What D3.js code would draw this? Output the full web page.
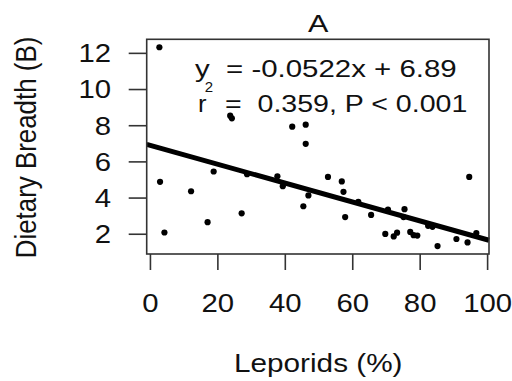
<!DOCTYPE html>
<html><head><meta charset="utf-8">
<script src="https://cdn.jsdelivr.net/npm/d3@7"></script>
<style>
html,body{margin:0;padding:0;background:#fff;}
svg{display:block;}
text{font-family:"Liberation Sans",Arial,sans-serif;fill:#111;}
</style></head>
<body>
<svg id="c" width="512" height="381"></svg>
<script>
// ---- data ----
const leporids = [2.8,3.0,4.3,12.2,17.1,18.9,23.8,24.3,27.2,28.8,37.8,39.4,42.2,46.2,46.2,45.5,47.0,52.8,56.9,57.4,57.9,61.8,65.6,70.6,75.5,75.2,69.8,72.3,73.3,77.2,78.2,79.3,82.5,83.8,85.3,90.9,94.2,94.7,96.8];
const breadth  = [12.31,4.87,2.07,4.35,2.64,5.44,8.53,8.38,3.13,5.29,5.18,4.63,7.92,8.03,6.97,3.52,4.12,5.14,4.89,4.32,2.92,3.77,3.04,3.34,3.36,2.92,1.99,1.85,2.06,2.10,1.92,1.90,2.44,2.38,1.32,1.71,1.52,5.14,2.04];
const xTicks = [0,20,40,60,80,100];
const yTicks = [2,4,6,8,10,12];
const slope = -0.0522, intercept = 6.89;
const titleText = "A";
const xLabel = "Leporids (%)";
const yLabel = "Dietary Breadth (B)";
const eqLine1 = "y\u00a0\u00a0= -0.0522x + 6.89";
const eqLine2 = "=\u00a0\u00a00.359, P < 0.001";

// ---- layout ----
const L = 146.7, R = 489, T = 39.3, B = 254;
const sx = 1.15; // horizontal stretch of glyphs
const svg = d3.select("#c");

function ext(arr){ const mn=d3.min(arr), mx=d3.max(arr), d=(mx-mn)*0.04; return [mn-d, mx+d]; }
const x = d3.scaleLinear().domain(ext(leporids)).range([L,R]);
const y = d3.scaleLinear().domain(ext(breadth)).range([B,T]);

// points
svg.append("g").selectAll("circle").data(leporids.map((v,i)=>[v,breadth[i]]))
  .join("circle").attr("cx",d=>x(d[0])).attr("cy",d=>y(d[1])).attr("r",3.1).attr("fill","#000");

// regression line
const xd = x.domain();
svg.append("line")
  .attr("x1",x(xd[0])).attr("y1",y(slope*xd[0]+intercept))
  .attr("x2",x(xd[1])).attr("y2",y(slope*xd[1]+intercept))
  .attr("stroke","#000").attr("stroke-width",5);

// box
svg.append("rect").attr("x",L).attr("y",T).attr("width",R-L).attr("height",B-T)
  .attr("fill","none").attr("stroke","#333").attr("stroke-width",1.6);

// axes
const ya = svg.append("g").attr("transform",`translate(${L},0)`)
  .call(d3.axisLeft(y).tickValues(yTicks).tickSize(18).tickFormat(d3.format("d")));
ya.select(".domain").remove();
ya.selectAll(".tick line").attr("stroke","#333").attr("stroke-width",1.6);
ya.selectAll(".tick text").attr("x",0).attr("dy",null)
  .attr("transform",`translate(${111-L},8.8) scale(${sx},1)`)
  .style("font-size","25.5px").style("font-family","Liberation Sans, Arial, sans-serif").attr("fill","#111");

const xa = svg.append("g").attr("transform",`translate(0,${B})`)
  .call(d3.axisBottom(x).tickValues(xTicks).tickSize(16).tickFormat(d3.format("d")));
xa.select(".domain").remove();
xa.selectAll(".tick line").attr("stroke","#333").attr("stroke-width",1.6);
xa.selectAll(".tick text").attr("y",0).attr("dy",null)
  .attr("transform",`translate(0,${311.5-B}) scale(${sx},1)`)
  .style("font-size","25.5px").style("font-family","Liberation Sans, Arial, sans-serif").attr("fill","#111");

// title
svg.append("text").attr("text-anchor","middle")
  .attr("transform",`translate(318.3,31.7) scale(1.3,1)`)
  .style("font-size","23.5px").text(titleText);

// axis labels
svg.append("text").attr("x",234).attr("y",371.7)
  .attr("textLength",168.5).attr("lengthAdjust","spacingAndGlyphs")
  .style("font-size","25.5px").text(xLabel);
svg.append("text").attr("text-anchor","middle")
  .attr("transform",`translate(36,147.5) scale(${sx},1) rotate(-90)`)
  .attr("textLength",221.6).attr("lengthAdjust","spacingAndGlyphs")
  .style("font-size","25.5px").text(yLabel);

// equation annotation
svg.append("text").attr("x",195).attr("y",76.5)
  .attr("textLength",261.7).attr("lengthAdjust","spacingAndGlyphs")
  .style("font-size","23.3px").text(eqLine1);
svg.append("text")
  .attr("transform",`translate(198,111.5) scale(1.1,1)`)
  .style("font-size","23.3px").text("r");
svg.append("text").attr("x",204.8).attr("y",91.7)
  .style("font-size","15px").text("2");
svg.append("text").attr("x",225).attr("y",111.5)
  .attr("textLength",242.3).attr("lengthAdjust","spacingAndGlyphs")
  .style("font-size","23.3px").text(eqLine2);
</script>
</body></html>
